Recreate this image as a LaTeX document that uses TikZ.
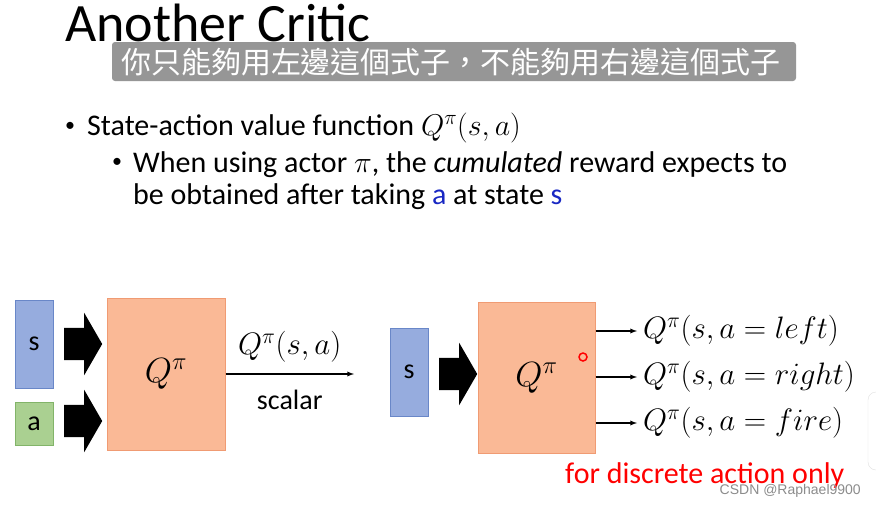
\documentclass[tikz,border=0pt]{standalone}
\usepackage{fix-cm}
\usepackage{fontspec}
\setmainfont{Carlito}
\newfontfamily\cjk{Noto Sans CJK TC}
\newfontfamily\wmfont{Liberation Sans}
\usepackage{tikz}
\usetikzlibrary{arrows,shapes.arrows,positioning}

\definecolor{sfill}{RGB}{150,172,222}
\definecolor{sline}{RGB}{105,135,200}
\definecolor{afill}{RGB}{170,208,145}
\definecolor{aline}{RGB}{130,180,105}
\definecolor{qfill}{RGB}{250,185,150}
\definecolor{qline}{RGB}{240,155,115}
\definecolor{kwblue}{RGB}{25,40,195}
\definecolor{subgray}{RGB}{150,150,150}

\tikzset{
  sbox/.style={draw=sline, fill=sfill, line width=1pt, minimum width=38pt, minimum height=88pt, inner sep=0pt, font=\fontsize{28}{30}\selectfont},
  abox/.style={draw=aline, fill=afill, line width=1pt, minimum width=38pt, minimum height=43pt, inner sep=0pt, font=\fontsize{28}{30}\selectfont},
  qbox/.style={draw=qline, fill=qfill, line width=1pt, minimum width=118pt, minimum height=152pt, inner sep=0pt, font=\fontsize{35}{36}\selectfont},
  fatarrow/.style={single arrow, fill=black, inner sep=0pt, anchor=tail, minimum height=38pt, single arrow tip angle=120, single arrow head extend=15pt},
  txt/.style={inner sep=0pt, anchor=base west, font=\fontsize{30}{32}\selectfont},
  dot/.style={inner sep=0pt, font=\fontsize{20}{20}\selectfont},
  outlbl/.style={inner sep=0pt, anchor=west, font=\fontsize{31}{32}\selectfont},
}

\begin{document}
\begin{tikzpicture}[x=1pt,y=-1pt]
\useasboundingbox (0,0) rectangle (876,509);
\fill[white] (0,0) rectangle (876,509);

% heading and subtitle bar
\node[txt, font=\fontsize{54}{56}\selectfont] (title) at (65,41) {Another Critic};
\fill[subgray, rounded corners=3pt] (112,42) rectangle (796,81);
\node[inner sep=0pt, text=white, font=\cjk\fontsize{30}{32}\selectfont] (sub) at (451,62) {你只能夠用左邊這個式子，不能夠用右邊這個式子};

% bullets
\node[dot] (d1) at (70,127) {\textbullet};
\node[txt] (b1) at (87,135) {State-action value function $Q^\pi(s,a)$};
\node[dot] (d2) at (117,163) {\textbullet};
\node[txt] (b2) at (133,172) {When using actor $\pi$, the \textit{cumulated} reward expects to};
\node[txt] (b3) at (133,204) {be obtained after taking \textcolor{kwblue}{a} at state \textcolor{kwblue}{s}};

% left: Q(s,a) gives one scalar
\node[sbox] (s1) at (34,344) {s};
\node[abox] (a1) at (34,423.5) {a};
\node[fatarrow] (in1) at (64,344) {\rule{0pt}{32pt}};
\node[fatarrow] (in2) at (64,421) {\rule{0pt}{32pt}};
\node[qbox] (q1) at (166,374) {$Q^\pi$};
\coordinate (out1) at (354,374);
\draw[-latex, line width=1.3pt] (q1.east) -- (out1)
  node[midway, above=8pt, font=\fontsize{31}{32}\selectfont] (val) {$Q^\pi(s,a)$}
  node[midway, below=12pt, font=\fontsize{28}{30}\selectfont] (scal) {scalar};

% right: one output for each action
\node[sbox] (s2) at (409,372) {s};
\node[fatarrow] (in3) at (439,374) {\rule{0pt}{32pt}};
\node[qbox, minimum width=117pt, minimum height=151pt] (q2) at (536.5,377.5) {$Q^\pi$};
\draw[red, line width=1.5pt] (583,357) circle (4);
\coordinate (o1) at (637,331);
\coordinate (o2) at (637,377);
\coordinate (o3) at (637,423);
\draw[-latex, line width=1.3pt] (q2.east |- o1) -- (o1);
\draw[-latex, line width=1.3pt] (q2.east |- o2) -- (o2);
\draw[-latex, line width=1.3pt] (q2.east |- o3) -- (o3);
\node[outlbl] (left) at (643,331) {$Q^\pi(s,a=left)$};
\node[outlbl] (right) at (643,377) {$Q^\pi(s,a=right)$};
\node[outlbl] (fire) at (643,423) {$Q^\pi(s,a=fire)$};
\node[txt, text=red] (note) at (565,483) {for discrete action only};

% watermark and page edge
\node[inner sep=0pt, anchor=east, text=black!45, font=\wmfont\fontsize{14}{15}\selectfont] (wm) at (861,491) {CSDN @Raphael9900};
\draw[black!12, fill=white, rounded corners=8pt] (868,392) rectangle (900,470);
\end{tikzpicture}
\end{document}
